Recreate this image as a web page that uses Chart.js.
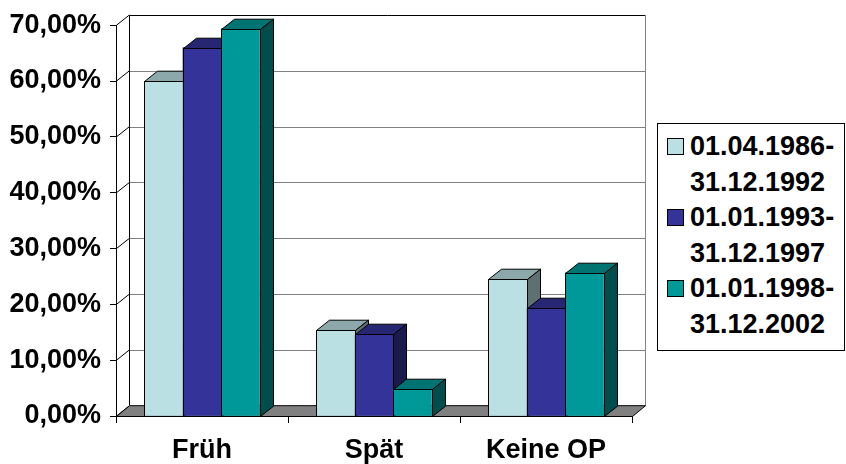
<!DOCTYPE html>
<html>
<head>
<meta charset="utf-8">
<script src="https://cdn.jsdelivr.net/npm/chart.js@4/dist/chart.umd.min.js"></script>
<style>
  html, body { margin: 0; padding: 0; background: #fff; }
  #wrap { position: relative; width: 846px; height: 464px; }
  #legend {
    position: absolute; left: 657px; top: 123px; width: 188px; height: 228px;
    box-sizing: border-box; border: 1px solid #000; background: #fff;
    font: bold 27px "Liberation Sans", Arial, sans-serif; color: #000;
  }
  .sw { position: absolute; left: 9px; width: 15px; height: 15px; border: 1px solid #000; }
  .tx { position: absolute; left: 32px; line-height: 35.6px; white-space: nowrap; }
</style>
</head>
<body>
<div id="wrap">
  <canvas id="c" width="846" height="464"></canvas>
  <div id="legend"></div>
</div>
<script>
// Categories and the share per period (in %)
const categories = ['Früh', 'Spät', 'Keine OP'];
const seriesNames = [
  ['01.04.1986-', '31.12.1992'],
  ['01.01.1993-', '31.12.1997'],
  ['01.01.1998-', '31.12.2002']
];
const period1986 = [60.0, 15.4, 24.5];
const period1993 = [66.0, 14.6, 19.4];
const period1998 = [69.4, 4.8, 25.7];
const yTicks = [0, 10, 20, 30, 40, 50, 60, 70];

// front / top / side shades of each series
const frontColors = ['#BBE0E3', '#333399', '#009999'];
const topColors   = ['#8CA8AA', '#262673', '#007373'];
const sideColors  = ['#5E7072', '#1A1A4D', '#004D4D'];

const seriesValues = [period1986, period1993, period1998];

// depth offset of the 3D box (back is shifted right and up)
const DX = 13, DY = -10.3;
const FONT = '"Liberation Sans", Arial, sans-serif';

function poly(ctx, pts, fill) {
  ctx.beginPath();
  ctx.moveTo(pts[0][0], pts[0][1]);
  for (let i = 1; i < pts.length; i++) ctx.lineTo(pts[i][0], pts[i][1]);
  ctx.closePath();
  ctx.fillStyle = fill;
  ctx.fill();
  ctx.stroke();
}

const box3d = {
  id: 'box3d',
  beforeDatasetsDraw(chart) {
    const { ctx, chartArea: a, scales: { y } } = chart;
    const L = a.left + DX, R = a.right + DX;
    const T = y.getPixelForValue(yTicks[yTicks.length - 1]) + DY;
    const B = y.getPixelForValue(0) + DY;
    ctx.save();
    ctx.lineWidth = 1;
    // back wall
    ctx.fillStyle = '#fff';
    ctx.fillRect(L, T, R - L, B - T);
    // gridlines on the back wall
    ctx.strokeStyle = '#808080';
    yTicks.forEach(v => {
      if (v === 0 || v === yTicks[yTicks.length - 1]) return;
      const yy = Math.round(y.getPixelForValue(v) + DY) + 0.5;
      ctx.beginPath(); ctx.moveTo(L, yy); ctx.lineTo(R, yy); ctx.stroke();
    });
    // right edge of back wall
    ctx.beginPath(); ctx.moveTo(Math.round(R) + 0.5, T); ctx.lineTo(Math.round(R) + 0.5, B); ctx.stroke();
    // top and left edges
    ctx.strokeStyle = '#000';
    const tY = Math.round(T) + 0.5, lX = Math.round(L) + 0.5;
    ctx.beginPath(); ctx.moveTo(lX, tY); ctx.lineTo(R, tY); ctx.stroke();
    ctx.beginPath(); ctx.moveTo(lX, tY); ctx.lineTo(lX, B); ctx.stroke();
    // side wall diagonals
    yTicks.forEach(v => {
      const yf = y.getPixelForValue(v);
      ctx.beginPath(); ctx.moveTo(a.left + 0.5, yf); ctx.lineTo(lX, yf + DY); ctx.stroke();
    });
    // front axis runs a little below the floor
    ctx.beginPath(); ctx.moveTo(a.left + 0.5, a.bottom); ctx.lineTo(a.left + 0.5, a.bottom + 6); ctx.stroke();
    // floor
    poly(ctx, [[a.left + 0.5, a.bottom + 0.5], [a.right + 0.5, a.bottom + 0.5],
               [R + 0.5, B], [L + 0.5, B]], '#808080');
    ctx.restore();
  },
  afterDatasetsDraw(chart) {
    const ctx = chart.ctx;
    ctx.save();
    ctx.lineWidth = 1;
    ctx.strokeStyle = '#000';
    ctx.lineJoin = 'round';
    chart.data.datasets.forEach((ds, i) => {
      const meta = chart.getDatasetMeta(i);
      meta.data.forEach(el => {
        el.draw(ctx);
        const x0 = Math.round(el.x - el.width / 2) + 0.5;
        const x1 = Math.round(el.x + el.width / 2) + 0.5;
        const yt = Math.round(el.y) + 0.5;
        const yb = Math.round(el.base) + 0.5;
        ctx.strokeStyle = '#000';
        poly(ctx, [[x0, yt], [x1, yt], [x1 + DX, yt + DY], [x0 + DX, yt + DY]], topColors[i]);
        poly(ctx, [[x1, yt], [x1 + DX, yt + DY], [x1 + DX, yb + DY], [x1, yb]], sideColors[i]);
        ctx.beginPath(); ctx.rect(x0, yt, x1 - x0, yb - yt); ctx.stroke();
      });
    });
    ctx.restore();
  }
};

new Chart(document.getElementById('c'), {
  type: 'bar',
  data: {
    labels: categories,
    datasets: seriesValues.map((vals, i) => ({
      label: seriesNames[i].join(' '),
      data: vals,
      backgroundColor: frontColors[i],
      borderColor: '#000',
      borderWidth: 0,
      categoryPercentage: 0.67,
      barPercentage: 1.0
    }))
  },
  options: {
    responsive: false,
    animation: false,
    devicePixelRatio: 1,
    layout: { padding: { left: 0, top: 25, right: 214, bottom: 0 } },
    plugins: { legend: { display: false }, tooltip: { enabled: false } },
    scales: {
      x: {
        afterFit(s) { s.height = 48; },
        grid: { offset: true, drawOnChartArea: false, drawTicks: true, tickLength: 7, color: '#000' },
        border: { display: true, color: '#000' },
        ticks: { color: '#000', padding: 11, font: { family: FONT, size: 27, weight: 'bold' } }
      },
      y: {
        min: 0, max: 70,
        afterFit(s) { s.width = 116; },
        afterBuildTicks(s) { s.ticks = yTicks.map(v => ({ value: v })); },
        grid: { drawOnChartArea: false, drawTicks: true, tickLength: 6, color: '#000' },
        border: { display: true, color: '#000' },
        ticks: {
          color: '#000', padding: 9,
          font: { family: FONT, size: 27, weight: 'bold' },
          callback: v => v.toFixed(2).replace('.', ',') + '%'
        }
      }
    }
  },
  plugins: [box3d]
});

// legend
const legend = document.getElementById('legend');
seriesNames.forEach((lines, i) => {
  const top = 5 + i * 71.2;
  const sw = document.createElement('div');
  sw.className = 'sw';
  sw.style.top = (top + 8.5) + 'px';
  sw.style.background = frontColors[i];
  legend.appendChild(sw);
  const tx = document.createElement('div');
  tx.className = 'tx';
  tx.style.top = top + 'px';
  tx.innerHTML = lines.join('<br>');
  legend.appendChild(tx);
});
</script>
</body>
</html>
